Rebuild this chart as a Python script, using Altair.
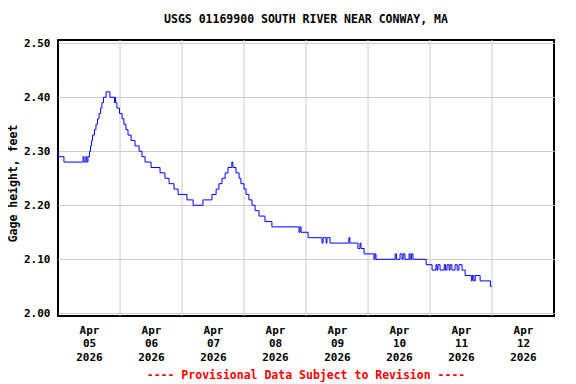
import altair as alt
import pandas as pd

# Gage height step series: hours since 2026-04-05 00:00, value in feet
hours = [0, 0.25, 2.3, 9.7, 10.1, 10.8, 11.2, 11.6, 12.2, 12.6, 13.0, 13.4, 14.1, 14.7, 15.3,
         15.9, 16.5, 17.0, 17.6, 18.6, 20.1, 21.9, 22.1, 22.3, 22.8, 23.8, 24.8, 25.5, 26.3,
         27.1, 28.3, 29.8, 31.4, 32.5, 33.7, 36.0, 39.5, 41.4, 43.0, 44.9, 46.5, 49.9, 52.3,
         56.1, 59.6, 61.2, 62.3, 63.5, 64.7, 65.8, 67.3, 67.7, 68.9, 70.1, 70.8, 72.0, 72.8,
         73.9, 75.1, 76.3, 77.8, 80.1, 82.8, 93.3, 93.7, 94.1, 96.8, 102.2, 102.6, 103.8,
         104.1, 105.3, 112.6, 113.0, 116.1, 116.9, 117.3, 118.5, 122.3, 122.7, 123.1, 130.5,
         131.0, 132.4, 133.2, 133.6, 134.3, 135.9, 136.3, 136.8, 137.4, 142.5, 144.8, 146.3,
         146.7, 147.1, 147.9, 149.5, 150.0, 150.6, 151.4, 151.8, 152.5, 153.7, 154.5, 155.2,
         156.4, 157.6, 160.0, 160.4, 161.0, 161.5, 163.4, 167.4, 168.0]
values = [2.30, 2.29, 2.28, 2.29, 2.28, 2.29, 2.28, 2.29, 2.30, 2.31, 2.32, 2.33, 2.34, 2.35, 2.36,
          2.37, 2.38, 2.39, 2.40, 2.41, 2.40, 2.39, 2.40, 2.39, 2.38, 2.37, 2.36, 2.35, 2.34,
          2.33, 2.32, 2.31, 2.30, 2.29, 2.28, 2.27, 2.26, 2.25, 2.24, 2.23, 2.22, 2.21, 2.20,
          2.21, 2.22, 2.23, 2.24, 2.25, 2.26, 2.27, 2.28, 2.27, 2.26, 2.25, 2.24, 2.23, 2.22,
          2.21, 2.20, 2.19, 2.18, 2.17, 2.16, 2.15, 2.16, 2.15, 2.14, 2.13, 2.14, 2.13,
          2.14, 2.13, 2.14, 2.13, 2.12, 2.13, 2.12, 2.11, 2.10, 2.11, 2.10, 2.11,
          2.10, 2.11, 2.10, 2.11, 2.10, 2.11, 2.10, 2.11, 2.10, 2.09, 2.08, 2.09,
          2.08, 2.09, 2.08, 2.09, 2.08, 2.09, 2.08, 2.09, 2.08, 2.09, 2.08, 2.09,
          2.08, 2.07, 2.06, 2.07, 2.06, 2.07, 2.06, 2.05, 2.05]

day_labels = ["05", "06", "07", "08", "09", "10", "11", "12"]
month_label = "Apr"
year_label = "2026"
label_hours = [12, 36, 60, 84, 108, 132, 156, 180]
grid_hours = [24, 48, 72, 96, 120, 144, 168]
y_ticks = [2.00, 2.10, 2.20, 2.30, 2.40, 2.50]

title_text = "USGS 01169900 SOUTH RIVER NEAR CONWAY, MA"
y_title = "Gage height, feet"
footer_text = "---- Provisional Data Subject to Revision ----"

FONT = "DejaVu Sans Mono"

df = pd.DataFrame({"hour": hours, "value": values})
grid_df = pd.DataFrame({"hour": grid_hours})
footer_df = pd.DataFrame({"t": [footer_text]})

# nested conditional giving the day string for each labelled hour
day_expr = "'" + day_labels[-1] + "'"
for h, d in reversed(list(zip(label_hours[:-1], day_labels[:-1]))):
    day_expr = f"(datum.value <= {h} ? '{d}' : {day_expr})"
label_expr = f"['{month_label}', {day_expr}, '{year_label}']"

xscale = alt.Scale(domain=[0, 192], nice=False, zero=False)
yscale = alt.Scale(domain=[1.995, 2.506], nice=False, zero=False)

xaxis = alt.Axis(
    values=label_hours,
    labelExpr=label_expr,
    grid=False,
    ticks=False,
    domain=False,
    title=None,
    labelFont=FONT,
    labelFontSize=11,
    labelFontWeight="bold",
    labelColor="black",
    labelLineHeight=13.5,
    labelBaseline="top",
    labelPadding=8,
    labelFlush=False,
    labelOverlap=False,
)

grid = alt.Chart(grid_df).mark_rule(color="#cccccc", strokeWidth=1).encode(
    x=alt.X("hour:Q", scale=xscale, axis=xaxis)
)

line = alt.Chart(df).mark_line(interpolate="step-after", color="#0000ff", strokeWidth=1).encode(
    x=alt.X("hour:Q", scale=xscale, axis=xaxis),
    y=alt.Y(
        "value:Q",
        scale=yscale,
        axis=alt.Axis(
            values=y_ticks,
            format=".2f",
            grid=True,
            gridColor="#cccccc",
            gridWidth=1,
            ticks=False,
            domain=False,
            title=y_title,
            titleFont=FONT,
            titleFontSize=11.5,
            titleFontWeight="bold",
            titleColor="black",
            titlePadding=5,
            titleY=143,
            labelFont=FONT,
            labelFontSize=11,
            labelFontWeight="bold",
            labelColor="black",
            labelPadding=8,
            labelFlush=False,
            labelOverlap=False,
        ),
    ),
)

footer = alt.Chart(footer_df).mark_text(
    font=FONT, fontSize=11.5, fontWeight="bold", color="#ff0000", align="center", baseline="middle"
).encode(text="t:N", x=alt.value(248), y=alt.value(335.5))

chart = (
    alt.layer(grid, line, footer)
    .properties(
        width=496,
        height=276,
        background="white",
        title=alt.TitleParams(
            text=title_text,
            font=FONT,
            fontSize=11.5,
            fontWeight="bold",
            color="black",
            anchor="middle",
            offset=12,
        ),
        autosize=alt.AutoSizeParams(type="none"),
        padding={"left": 50, "top": 32, "right": 14, "bottom": 68},
    )
    .configure_view(stroke="black", strokeWidth=2)
)

chart.save("out.html", embed_options={"renderer": "svg", "actions": False})
